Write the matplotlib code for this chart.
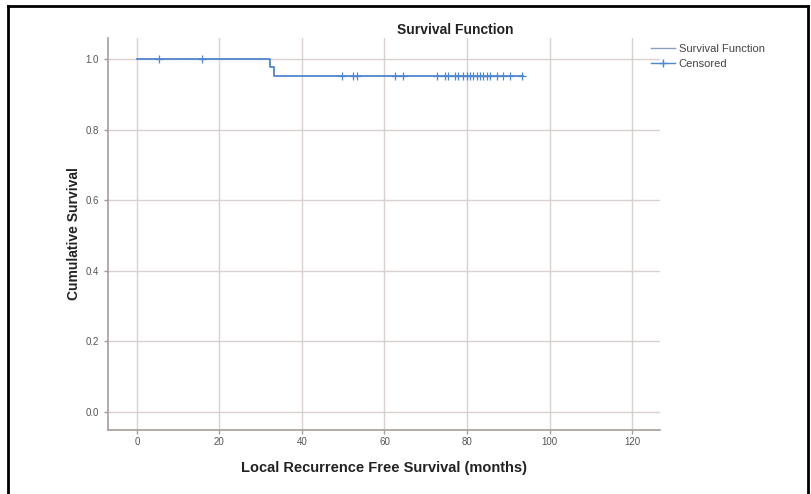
import numpy as np
import matplotlib
matplotlib.use("Agg")
import matplotlib.pyplot as plt
from matplotlib.lines import Line2D

plt.rcParams['font.family'] = ['Liberation Sans', 'DejaVu Sans']

# 生存曲线数据
step_times = [0, 32.2, 33.2, 93.6]
step_surv = [1.0, 0.976, 0.951, 0.951]
censor_times = [5.4, 15.7, 49.6, 52.3, 53.3, 62.5, 64.5, 72.7, 74.7, 75.4, 77.1,
                77.8, 79.0, 80.0, 80.7, 81.5, 82.4, 83.2, 83.9, 84.8, 85.6,
                87.3, 88.8, 90.4, 93.3]
xticks = [0, 20, 40, 60, 80, 100, 120]
yticks = [0.0, 0.2, 0.4, 0.6, 0.8, 1.0]

blue = '#4f86d0'
grid_c = '#d9d1cd'
spine_c = '#a59d99'

fig = plt.figure(figsize=(8.12, 4.94), dpi=100)
ax = fig.add_axes([0.133, 0.1296, 0.680, 0.794])

# 网格线
for x in xticks:
    ax.axvline(x, color=grid_c, lw=1, zorder=0)
for y in yticks:
    ax.axhline(y, color=grid_c, lw=1, zorder=0)

ax.step(step_times, step_surv, where='post', color=blue, lw=1.3, zorder=3)

# 删失点的生存值
idx = np.searchsorted(step_times, censor_times, side='right') - 1
cy = [step_surv[i] for i in idx]
ax.plot(censor_times, cy, ls='none', marker='+', ms=6, mew=0.9, color=blue, zorder=4)

ax.set_xlim(-7.0, 126.8)
ax.set_ylim(-0.051, 1.06)
ax.set_xticks(xticks)
ax.set_yticks(yticks)
ax.set_yticklabels(['%.1f' % v for v in yticks])
ax.tick_params(axis='both', colors=spine_c, labelcolor='#555555', labelsize=7, length=3, width=1)
ax.tick_params(axis='x', pad=2)
for s in ['top', 'right']:
    ax.spines[s].set_visible(False)
for s in ['left', 'bottom']:
    ax.spines[s].set_color(spine_c)
    ax.spines[s].set_linewidth(1.2)

ax.set_xlabel('Local Recurrence Free Survival (months)', fontsize=10.5, fontweight='bold',
              color='#222222', labelpad=10)
ax.set_ylabel('Cumulative Survival', fontsize=10, fontweight='bold', color='#222222', labelpad=3)
fig.text(455 / 812, 1 - 30 / 494, 'Survival Function', fontsize=10, fontweight='bold',
         color='#222222', ha='center', va='center')

# 图例
handles = [Line2D([], [], color='#8aa0c0', lw=1),
           Line2D([], [], color=blue, lw=1, marker='+', ms=6)]
ax.legend(handles, ['Survival Function', 'Censored'], loc='upper left',
          bbox_to_anchor=(0.975, 0.995), frameon=False, fontsize=8, handlelength=2.2,
          handletextpad=0.3, labelspacing=0.45, borderaxespad=0, labelcolor='#444444')

# 外边框
fig.add_artist(Line2D([8 / 812, 8 / 812], [0, 1 - 6 / 494], transform=fig.transFigure, color='black', lw=2))
fig.add_artist(Line2D([8 / 812, 808 / 812], [1 - 6 / 494, 1 - 6 / 494], transform=fig.transFigure, color='black', lw=2))
fig.add_artist(Line2D([808 / 812, 808 / 812], [0, 1 - 6 / 494], transform=fig.transFigure, color='black', lw=2))

fig.savefig('out.png', dpi=100)
